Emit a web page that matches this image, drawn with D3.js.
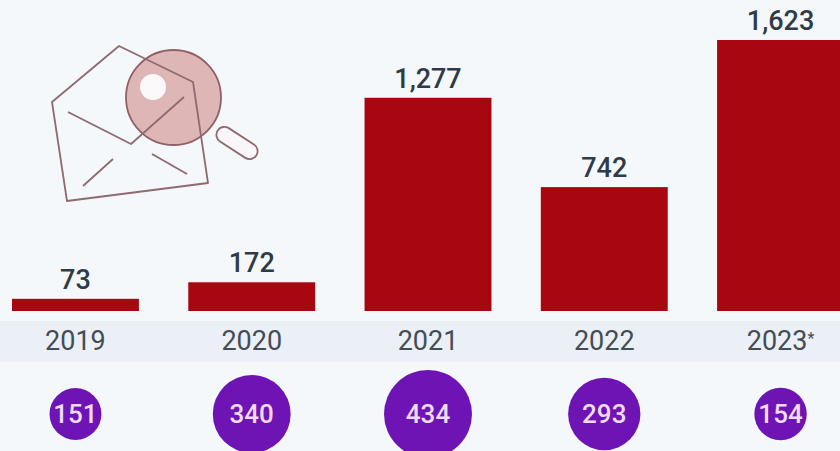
<!DOCTYPE html>
<html><head><meta charset="utf-8">
<script src="https://cdn.jsdelivr.net/npm/d3@7"></script>
<style>html,body{margin:0;padding:0;background:#f4f8fb;overflow:hidden}svg{display:block}text{font-family:Roboto,sans-serif}</style>
</head><body><svg id="c" width="840" height="451"></svg>
<script>
const years = ["2019","2020","2021","2022","2023"];
const yearNotes = ["","","","","*"];
const barValues = [73,172,1277,742,1623];
const circleValues = [151,340,434,293,154];

const svg = d3.select("#c");
const x = d3.scaleBand().domain(years).range([12,844]).paddingInner(0.28);
const y = d3.scaleLinear().domain([0,1623]).range([311,40]);
const r = d3.scaleSqrt().domain([0,434]).range([0,44]);
const fmt = d3.format(",");
const cx = d => x(d)+x.bandwidth()/2;

// axis strip
svg.append("rect").attr("x",0).attr("y",321).attr("width",840).attr("height",41).attr("fill","#ebf0f6");

// icon
const icon = svg.append("g").attr("fill","none").attr("stroke","#8f6a70").attr("stroke-width",1.8).attr("stroke-linejoin","round");
icon.append("circle").attr("cx",173.5).attr("cy",97.5).attr("r",47.5).attr("fill","#dfb6b6").attr("stroke","#8f6166");
icon.append("circle").attr("cx",153).attr("cy",87).attr("r",13).attr("fill","#fbf8fa").attr("stroke","none");
icon.append("path").attr("d","M52 102L119 46L193 82L208 183L67 201Z");
icon.append("path").attr("d","M68 112L131 144L184 97");
icon.append("path").attr("d","M83 186L113 159M152 154L187 174");
icon.append("rect").attr("x",-23).attr("y",-8).attr("width",46).attr("height",16).attr("rx",8).attr("transform","translate(237,143) rotate(33)").attr("fill","#f8f6f8");

// bars
svg.selectAll("rect.bar").data(years).join("rect").attr("class","bar")
  .attr("x",d=>x(d)).attr("width",x.bandwidth())
  .attr("y",(d,i)=>y(barValues[i])).attr("height",(d,i)=>y(0)-y(barValues[i]))
  .attr("fill","#a8070f");
svg.selectAll("text.val").data(years).join("text").attr("class","val")
  .attr("x",cx).attr("y",(d,i)=>y(barValues[i])-10)
  .attr("text-anchor","middle").attr("font-size",27).attr("font-weight",500).attr("fill","#2f3b47")
  .text((d,i)=>fmt(barValues[i]));

// years
const yr = svg.selectAll("text.yr").data(years).join("text").attr("class","yr")
  .attr("x",cx).attr("y",350).attr("text-anchor","middle")
  .attr("font-size",27).attr("fill","#444c55").text(d=>d);
yr.append("tspan").attr("font-size",16).attr("dy",-6).text((d,i)=>yearNotes[i]);

// circles
svg.selectAll("circle.b").data(years).join("circle").attr("class","b")
  .attr("cx",cx).attr("cy",414)
  .attr("r",(d,i)=>r(circleValues[i])).attr("fill","#6f14b4");
svg.selectAll("text.cv").data(years).join("text").attr("class","cv")
  .attr("x",cx).attr("y",423).attr("text-anchor","middle")
  .attr("font-size",26).attr("font-weight",500).attr("fill","#f0dcfa").text((d,i)=>circleValues[i]);
</script></body></html>
